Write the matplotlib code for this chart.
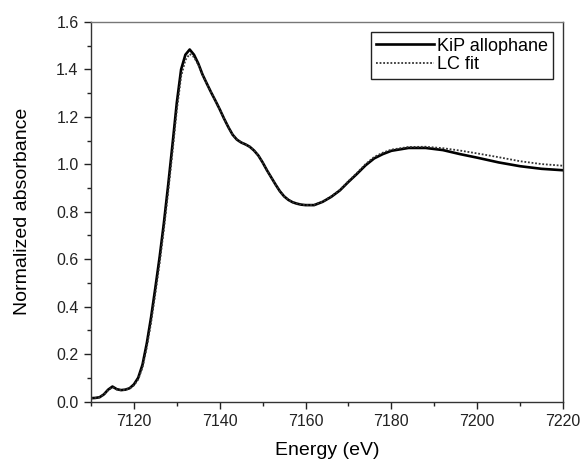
import matplotlib
matplotlib.use('Agg')
import matplotlib.pyplot as plt
from matplotlib.ticker import MultipleLocator

# energies (eV) and absorbance values
energy = [7110, 7111, 7112, 7113, 7114, 7115, 7116, 7117, 7118, 7119,
          7120, 7121, 7122, 7123, 7124, 7125, 7126, 7127, 7128, 7129,
          7130, 7131, 7132, 7133, 7134, 7135, 7136, 7137, 7138, 7139,
          7140, 7141, 7142, 7143, 7144, 7145, 7146, 7147, 7148, 7149,
          7150, 7151, 7152, 7153, 7154, 7155, 7156, 7157, 7158, 7159,
          7160, 7162, 7164, 7166, 7168, 7170, 7172, 7174, 7176, 7178,
          7180, 7184, 7188, 7192, 7196, 7200, 7205, 7210, 7215, 7220]

kip = [0.014, 0.015, 0.018, 0.030, 0.050, 0.063, 0.052, 0.048, 0.050, 0.056,
       0.072, 0.100, 0.155, 0.245, 0.355, 0.480, 0.610, 0.755, 0.915, 1.085,
       1.260, 1.400, 1.462, 1.484, 1.462, 1.425, 1.378, 1.340, 1.303, 1.268,
       1.232, 1.193, 1.157, 1.125, 1.104, 1.092, 1.084, 1.074, 1.058, 1.037,
       1.008, 0.975, 0.945, 0.915, 0.887, 0.865, 0.850, 0.840, 0.834, 0.830,
       0.828, 0.828, 0.842, 0.863, 0.890, 0.926, 0.960, 0.996, 1.025, 1.043,
       1.057, 1.069, 1.069, 1.060, 1.043, 1.028, 1.008, 0.992, 0.981, 0.975]

lc_fit = [0.014, 0.015, 0.018, 0.029, 0.048, 0.060, 0.051, 0.048, 0.049, 0.055,
          0.068, 0.093, 0.143, 0.228, 0.332, 0.455, 0.583, 0.727, 0.885, 1.052,
          1.228, 1.370, 1.440, 1.465, 1.452, 1.420, 1.376, 1.340, 1.303, 1.268,
          1.232, 1.193, 1.157, 1.125, 1.104, 1.092, 1.084, 1.074, 1.058, 1.037,
          1.008, 0.975, 0.945, 0.915, 0.887, 0.865, 0.850, 0.840, 0.834, 0.830,
          0.828, 0.829, 0.843, 0.865, 0.892, 0.929, 0.964, 1.001, 1.031, 1.049,
          1.062, 1.073, 1.074, 1.068, 1.058, 1.046, 1.030, 1.013, 1.001, 0.994]

plt.rcParams['font.family'] = ['Liberation Sans', 'DejaVu Sans']

fig = plt.figure(figsize=(5.81, 4.62), dpi=100)
ax = fig.add_axes([91 / 581, 1 - 401.5 / 462, 472 / 581, 379.5 / 462])

ax.plot(energy, kip, color='black', lw=1.9, label='KiP allophane')
ax.plot(energy, lc_fit, color='#333333', lw=1.3, ls=(0, (1, 1)), label='LC fit')

ax.set_xlim(7110, 7220)
ax.set_ylim(0, 1.6)
ax.xaxis.set_major_locator(MultipleLocator(20))
ax.xaxis.set_minor_locator(MultipleLocator(10))
ax.yaxis.set_major_locator(MultipleLocator(0.2))
ax.yaxis.set_minor_locator(MultipleLocator(0.1))
ax.yaxis.set_major_formatter(plt.FormatStrFormatter('%.1f'))
ax.tick_params(which='both', direction='out', top=False, right=False,
               labelsize=11.5, colors='#222222', width=1.0)
ax.tick_params(which='major', length=5, pad=4)
ax.tick_params(which='minor', length=3)
for s in ax.spines.values():
    s.set_linewidth(1.0)
    s.set_color('#333333')
ax.spines['top'].set_color('#777777')

ax.set_xlabel('Energy (eV)', fontsize=14, va='center')
ax.xaxis.set_label_coords(0.5, -0.128)
ax.set_ylabel('Normalized absorbance', fontsize=14, va='center')
ax.yaxis.set_label_coords(-0.146, 0.5)

leg = ax.legend(loc='upper right', bbox_to_anchor=(0.979, 0.973), fontsize=13,
                fancybox=False, framealpha=1, edgecolor='#222222',
                handlelength=3.2, handletextpad=0.15, borderpad=0.3,
                labelspacing=0.1, borderaxespad=0)
leg.get_frame().set_linewidth(1.0)

fig.savefig('out.png', dpi=100)
